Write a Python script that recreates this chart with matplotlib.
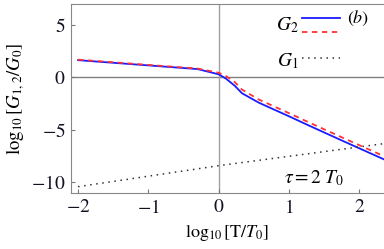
import numpy as np
import matplotlib.pyplot as plt

plt.rcParams['font.family'] = 'serif'
plt.rcParams['font.serif'] = ['Liberation Serif', 'DejaVu Serif']
plt.rcParams['mathtext.fontset'] = 'stix'

# values
x_g2 = [-2.0, -1.5, -1.0, -0.5, -0.3, 0.0, 0.1, 0.23, 0.33, 0.57, 1.0, 1.29, 1.8, 2.35]
y_g2 = [1.65, 1.4, 1.15, 0.9, 0.8, 0.3, -0.1, -0.8, -1.5, -2.4, -3.7, -4.6, -6.15, -7.8]
x_g2r = [-2.0, -1.5, -1.0, -0.5, -0.3, 0.0, 0.1, 0.23, 0.33, 0.57, 1.0, 1.29, 1.8, 2.35]
y_g2r = [1.7, 1.45, 1.2, 0.95, 0.85, 0.45, 0.15, -0.45, -1.15, -2.1, -3.4, -4.3, -5.85, -7.5]
x_g1 = [-2.0, 0.0, 2.35]
y_g1 = [-10.4, -8.4, -6.3]
xticks = [-2, -1, 0, 1, 2]
yticks = [-10, -5, 0, 5]

fig = plt.figure(figsize=(3.84, 2.49), dpi=100)
ax = fig.add_axes([0.185, 0.225, 0.815, 0.759])

ax.axhline(0, color='#808080', lw=1.0, zorder=1)
ax.axvline(0, color='#a0a0a0', lw=1.0, zorder=1)

ax.plot(x_g2, y_g2, color='#1a1aff', lw=1.3, zorder=3)
ax.plot(x_g2r, y_g2r, color='#ff3333', lw=1.3, ls=(0, (3, 2.5)), zorder=4)
ax.plot(x_g1, y_g1, color='#333333', lw=1.1, ls=(0, (1, 3)), zorder=3)

ax.set_xlim(-2.1, 2.35)
ax.set_ylim(-11, 7)
ax.set_xticks(xticks)
ax.set_yticks(yticks)
ax.set_xticklabels(['$%d$' % t for t in xticks])
ax.set_yticklabels(['$%d$' % t for t in yticks])
ax.tick_params(direction='in', length=3, color='#777777', labelsize=14, labelcolor='#111122', pad=4)
for s in ['left', 'bottom', 'top']:
    ax.spines[s].set_color('#888888')
ax.spines['right'].set_visible(False)

ax.set_xlabel(r'$\log_{10}[\mathrm{T}/T_0]$', fontsize=13, labelpad=5)
ax.set_ylabel(r'$\log_{10}[G_{1,2}/G_0]$', fontsize=13.5, labelpad=3)

# legend drawn by hand
lx = [1.19, 1.73]
ax.plot(lx, [5.65, 5.65], color='#1a1aff', lw=1.3)
ax.plot(lx, [4.35, 4.35], color='#ff3333', lw=1.3, ls=(0, (3, 2.5)))
ax.plot(lx, [1.9, 1.9], color='#333333', lw=1.1, ls=(0, (1, 3)))
ax.text(1.13, 4.95, r'$G_2$', fontsize=14, ha='right', va='center')
ax.text(1.13, 1.55, r'$G_1$', fontsize=14, ha='right', va='center')
ax.text(1.83, 5.6, r'$(b)$', fontsize=13, ha='left', va='center')
ax.text(0.93, -9.6, r'$\tau = 2\;T_0$', fontsize=14, ha='left', va='center')

fig.savefig('out.png', dpi=100)
